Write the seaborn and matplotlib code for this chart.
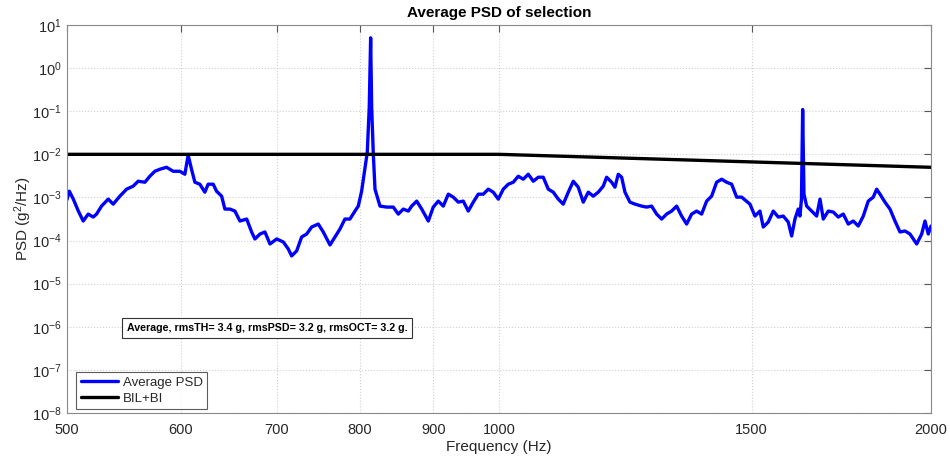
import numpy as np
import pandas as pd
import matplotlib
matplotlib.use("Agg")
import matplotlib.pyplot as plt
import matplotlib.ticker as mticker
import seaborn as sns

# ---------------- data ----------------
freq_hz = [
    500.0, 501.9, 505.1, 509.2, 513.2, 517.3, 521.5, 524.3, 528.5, 534.2,
    538.5, 544.3, 550.2, 556.0, 560.5, 566.6, 571.1, 575.7, 580.4, 586.6,
    592.9, 599.3, 604.1, 607.3, 610.6, 613.9, 618.8, 623.8, 627.1, 632.2,
    635.6, 640.8, 644.2, 649.4, 654.6, 659.9, 667.1, 672.4, 676.0, 681.5,
    686.9, 692.5, 700.0, 707.4, 713.1, 717.0, 722.8, 728.6, 734.5, 740.4,
    748.3, 754.3, 762.5, 768.6, 774.8, 781.0, 787.3, 793.7, 797.9, 802.2,
    809.5, 812.1, 813.9, 815.2, 817.3, 819.6, 826.2, 835.1, 844.0, 850.8,
    857.7, 864.6, 869.3, 876.3, 883.4, 892.8, 899.9, 907.2, 914.5, 921.9,
    929.3, 936.8, 944.3, 951.9, 959.6, 967.3, 975.1, 983.0, 990.9, 998.9,
    1006.9, 1015.0, 1023.2, 1031.4, 1039.7, 1048.1, 1056.6, 1065.1, 1073.6, 1082.3,
    1091.0, 1099.8, 1108.6, 1117.6, 1126.6, 1135.6, 1144.8, 1154.0, 1163.3, 1172.6,
    1182.1, 1188.5, 1198.1, 1204.5, 1210.9, 1217.5, 1224.0, 1233.8, 1243.8, 1257.2,
    1267.3, 1277.5, 1287.8, 1298.2, 1308.6, 1319.2, 1329.8, 1340.5, 1351.3, 1362.2,
    1373.2, 1384.2, 1395.4, 1406.6, 1417.9, 1429.4, 1440.9, 1452.5, 1464.2, 1476.0,
    1495.8, 1507.9, 1520.0, 1528.1, 1540.4, 1552.8, 1565.3, 1577.9, 1590.6, 1599.3,
    1607.8, 1616.3, 1620.7, 1624.7, 1626.5, 1627.8, 1629.4, 1631.2, 1638.3, 1651.5,
    1664.8, 1673.7, 1682.6, 1696.1, 1709.8, 1723.6, 1737.4, 1751.4, 1765.5, 1779.7,
    1794.1, 1808.5, 1823.1, 1833.0, 1842.8, 1857.6, 1872.6, 1887.7, 1902.9, 1918.2,
    1933.6, 1954.6, 1970.3, 1980.8, 1991.3, 2000.0,
]
psd_log10 = [
    -3.05, -2.855, -3.039, -3.316, -3.547, -3.386, -3.455, -3.386, -3.201, -3.039,
    -3.155, -2.970, -2.808, -2.739, -2.624, -2.647, -2.508, -2.393, -2.346, -2.300,
    -2.393, -2.393, -2.462, -2.02, -2.346, -2.647, -2.693, -2.878, -2.693, -2.693,
    -2.855, -2.970, -3.270, -3.270, -3.316, -3.547, -3.501, -3.801, -3.963, -3.848,
    -3.801, -4.079, -3.963, -4.032, -4.194, -4.356, -4.240, -3.917, -3.848, -3.686,
    -3.617, -3.801, -4.102, -3.917, -3.732, -3.501, -3.501, -3.316, -3.201, -2.855,
    -1.954, -0.891, 0.702, -0.891, -1.954, -2.808, -3.201, -3.224, -3.224, -3.386,
    -3.270, -3.316, -3.201, -3.085, -3.270, -3.547, -3.224, -3.085, -3.201, -2.924,
    -2.993, -3.109, -3.085, -3.316, -3.109, -2.924, -2.924, -2.808, -2.878, -3.039,
    -2.808, -2.693, -2.647, -2.508, -2.577, -2.462, -2.624, -2.531, -2.531, -2.808,
    -2.878, -3.039, -3.155, -2.878, -2.624, -2.762, -3.109, -2.878, -2.970, -2.878,
    -2.739, -2.531, -2.647, -2.762, -2.462, -2.531, -2.878, -3.109, -3.155, -3.201,
    -3.224, -3.201, -3.386, -3.501, -3.386, -3.316, -3.201, -3.432, -3.617, -3.386,
    -3.316, -3.386, -3.085, -2.970, -2.647, -2.577, -2.647, -2.693, -2.993, -2.993,
    -3.155, -3.432, -3.316, -3.686, -3.570, -3.316, -3.455, -3.432, -3.570, -3.894,
    -3.501, -3.270, -3.432, -3.039, -1.885, -0.961, -1.885, -2.924, -3.201, -3.316,
    -3.432, -3.039, -3.501, -3.316, -3.339, -3.455, -3.386, -3.617, -3.547, -3.663,
    -3.432, -3.085, -2.993, -2.808, -2.924, -3.109, -3.270, -3.547, -3.801, -3.778,
    -3.848, -4.079, -3.848, -3.547, -3.848, -3.663,
]
limit_freq_hz = [500, 1000, 2000]
limit_psd = [1e-2, 1e-2, 5e-3]

x_ticks = [500, 600, 700, 800, 900, 1000, 1500, 2000]
x_tick_labels = ["500", "600", "700", "800", "900", "1000", "1500", "2000"]
y_ticks = [1e-8, 1e-7, 1e-6, 1e-5, 1e-4, 1e-3, 1e-2, 1e-1, 1e0, 1e1]

title_text = "Average PSD of selection"
xlabel_text = "Frequency (Hz)"
ylabel_text = "PSD (g$^2$/Hz)"
series_names = ["Average PSD", "BIL+BI"]
info_text = "Average, rmsTH= 3.4 g, rmsPSD= 3.2 g, rmsOCT= 3.2 g."

# ---------------- style ----------------
sns.set_style("white")
plt.rcParams["font.family"] = ["Liberation Sans", "DejaVu Sans"]
plt.rcParams["mathtext.default"] = "regular"
plt.rcParams["axes.unicode_minus"] = False

psd_df = pd.DataFrame({"f": freq_hz, "psd": np.power(10.0, psd_log10)})
lim_df = pd.DataFrame({"f": limit_freq_hz, "psd": limit_psd})

fig = plt.figure(figsize=(9.5, 4.61), dpi=100)
ax = fig.add_axes([0.0705, 0.1041, 0.9095, 0.8417])

txt_col = "#262626"
ax.set_xscale("log")
ax.set_yscale("log")

sns.lineplot(data=psd_df, x="f", y="psd", ax=ax, color="#0000ff", lw=2.4,
             estimator=None, sort=False, label=series_names[0])
sns.lineplot(data=lim_df, x="f", y="psd", ax=ax, color="black", lw=2.4,
             estimator=None, sort=False, label=series_names[1])

ax.set_xlim(500, 2000)
ax.set_ylim(1e-8, 1e1)

ax.xaxis.set_major_locator(mticker.FixedLocator(x_ticks))
ax.xaxis.set_minor_locator(mticker.NullLocator())
ax.set_xticklabels(x_tick_labels)
ax.yaxis.set_major_locator(mticker.FixedLocator(y_ticks))
ax.yaxis.set_minor_locator(mticker.NullLocator())
ax.yaxis.set_major_formatter(mticker.LogFormatterMathtext())

ax.grid(True, which="major", color="#d0d0d0", linestyle=":", linewidth=0.8)
ax.tick_params(axis="both", which="major", direction="in", length=5,
               width=0.8, top=True, right=True, labelsize=10.5,
               colors="#555555", labelcolor=txt_col)
ax.tick_params(axis="x", pad=7)
ax.tick_params(axis="y", pad=4)
for s in ax.spines.values():
    s.set_color("#8a8a8a")
    s.set_linewidth(0.8)

ax.set_title(title_text, fontsize=11, fontweight="bold", color="black", pad=6)
ax.set_xlabel(xlabel_text, fontsize=11, color=txt_col, labelpad=2)
ax.set_ylabel(ylabel_text, fontsize=11, color=txt_col)
ax.yaxis.set_label_coords(-0.038, 0.5)

leg = ax.legend(loc="lower left", bbox_to_anchor=(0.011, 0.01),
                borderaxespad=0, frameon=True, fancybox=False,
                fontsize=9.5, handlelength=2.8, handletextpad=0.35,
                borderpad=0.35, labelspacing=0.25)
leg.get_frame().set_edgecolor("#333333")
leg.get_frame().set_linewidth(0.8)
for t in leg.get_texts():
    t.set_color(txt_col)

ax.text(0.069, 0.219, info_text, transform=ax.transAxes, fontsize=7.7,
        fontweight="bold", color="black", va="center", ha="left",
        bbox=dict(boxstyle="square,pad=0.45", fc="white", ec="#333333", lw=0.8))

fig.savefig("out.png", dpi=100)
